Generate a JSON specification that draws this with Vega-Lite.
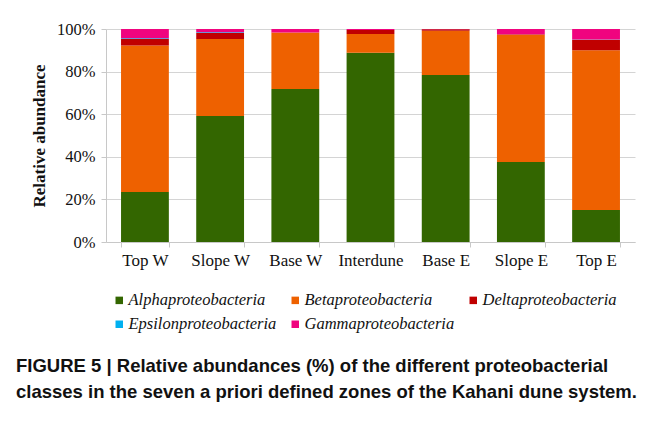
{
  "$schema": "https://vega.github.io/schema/vega-lite/v6.json",
  "width": 529,
  "height": 213,
  "autosize": {"type": "none"},
  "padding": {"left": 106, "top": 29, "right": 19, "bottom": 179},
  "background": "white",
  "title": {
    "text": ["FIGURE 5 | Relative abundances (%) of the different proteobacterial", "classes in the seven a priori defined zones of the Kahani dune system."],
    "orient": "bottom",
    "anchor": "start",
    "frame": "group",
    "dx": -90,
    "offset": 24,
    "font": "Liberation Sans",
    "fontSize": 18.5,
    "fontWeight": "bold",
    "color": "#111111",
    "lineHeight": 26
  },
  "data": {
    "values": [
      {"zone": "Top W", "class": "Alphaproteobacteria", "value": 23.5},
      {"zone": "Top W", "class": "Betaproteobacteria", "value": 68.7},
      {"zone": "Top W", "class": "Deltaproteobacteria", "value": 3.1},
      {"zone": "Top W", "class": "Epsilonproteobacteria", "value": 0.3},
      {"zone": "Top W", "class": "Gammaproteobacteria", "value": 4.4},
      {"zone": "Slope W", "class": "Alphaproteobacteria", "value": 59.2},
      {"zone": "Slope W", "class": "Betaproteobacteria", "value": 36.1},
      {"zone": "Slope W", "class": "Deltaproteobacteria", "value": 2.8},
      {"zone": "Slope W", "class": "Epsilonproteobacteria", "value": 0.4},
      {"zone": "Slope W", "class": "Gammaproteobacteria", "value": 1.5},
      {"zone": "Base W", "class": "Alphaproteobacteria", "value": 71.8},
      {"zone": "Base W", "class": "Betaproteobacteria", "value": 26.5},
      {"zone": "Base W", "class": "Deltaproteobacteria", "value": 0.1},
      {"zone": "Base W", "class": "Epsilonproteobacteria", "value": 0.0},
      {"zone": "Base W", "class": "Gammaproteobacteria", "value": 1.6},
      {"zone": "Interdune", "class": "Alphaproteobacteria", "value": 88.9},
      {"zone": "Interdune", "class": "Betaproteobacteria", "value": 8.8},
      {"zone": "Interdune", "class": "Deltaproteobacteria", "value": 1.8},
      {"zone": "Interdune", "class": "Epsilonproteobacteria", "value": 0.0},
      {"zone": "Interdune", "class": "Gammaproteobacteria", "value": 0.5},
      {"zone": "Base E", "class": "Alphaproteobacteria", "value": 78.4},
      {"zone": "Base E", "class": "Betaproteobacteria", "value": 20.8},
      {"zone": "Base E", "class": "Deltaproteobacteria", "value": 0.7},
      {"zone": "Base E", "class": "Epsilonproteobacteria", "value": 0.0},
      {"zone": "Base E", "class": "Gammaproteobacteria", "value": 0.1},
      {"zone": "Slope E", "class": "Alphaproteobacteria", "value": 37.6},
      {"zone": "Slope E", "class": "Betaproteobacteria", "value": 59.7},
      {"zone": "Slope E", "class": "Deltaproteobacteria", "value": 0.2},
      {"zone": "Slope E", "class": "Epsilonproteobacteria", "value": 0.0},
      {"zone": "Slope E", "class": "Gammaproteobacteria", "value": 2.5},
      {"zone": "Top E", "class": "Alphaproteobacteria", "value": 15.0},
      {"zone": "Top E", "class": "Betaproteobacteria", "value": 75.0},
      {"zone": "Top E", "class": "Deltaproteobacteria", "value": 5.0},
      {"zone": "Top E", "class": "Epsilonproteobacteria", "value": 0.1},
      {"zone": "Top E", "class": "Gammaproteobacteria", "value": 4.9}
    ]
  },
  "mark": {"type": "bar"},
  "encoding": {
    "x": {
      "field": "zone",
      "type": "nominal",
      "sort": null,
      "scale": {"paddingInner": 0.364, "paddingOuter": 0.2},
      "axis": {
        "title": null,
        "labelAngle": 0,
        "labelFont": "Liberation Serif",
        "labelFontSize": 17,
        "labelColor": "#111111",
        "labelPadding": 5,
        "tickBand": "extent",
        "tickSize": 5,
        "tickColor": "#c8c8c8",
        "domainColor": "#c8c8c8",
        "grid": false
      }
    },
    "y": {
      "field": "value",
      "type": "quantitative",
      "stack": "zero",
      "scale": {"domain": [0, 100], "nice": false},
      "axis": {
        "title": "Relative abundance",
        "titleFont": "Liberation Serif",
        "titleFontSize": 17,
        "titleFontWeight": "bold",
        "titleColor": "#111111",
        "titlePadding": 8,
        "values": [0, 20, 40, 60, 80, 100],
        "labelExpr": "datum.value + '%'",
        "labelFont": "Liberation Serif",
        "labelFontSize": 16.5,
        "labelColor": "#111111",
        "labelPadding": 6,
        "tickSize": 5,
        "tickColor": "#c8c8c8",
        "domainColor": "#c8c8c8",
        "grid": true,
        "gridColor": "#d4d4d4"
      }
    },
    "color": {
      "field": "class",
      "type": "nominal",
      "scale": {
        "domain": ["Alphaproteobacteria", "Betaproteobacteria", "Deltaproteobacteria", "Epsilonproteobacteria", "Gammaproteobacteria"],
        "range": ["#336600", "#EE6100", "#C00000", "#00B0F0", "#F0047F"]
      },
      "legend": {
        "title": null,
        "orient": "none",
        "legendX": 5,
        "legendY": 263,
        "columns": 3,
        "direction": "horizontal",
        "symbolType": "square",
        "symbolSize": 56,
        "symbolStrokeWidth": 0,
        "labelFont": "Liberation Serif",
        "labelFontStyle": "italic",
        "labelFontSize": 16.5,
        "labelColor": "#111111",
        "labelOffset": 1,
        "columnPadding": 10,
        "rowPadding": 7
      }
    },
    "order": {"field": "class", "sort": "ascending"}
  },
  "config": {
    "view": {"stroke": null}
  }
}
